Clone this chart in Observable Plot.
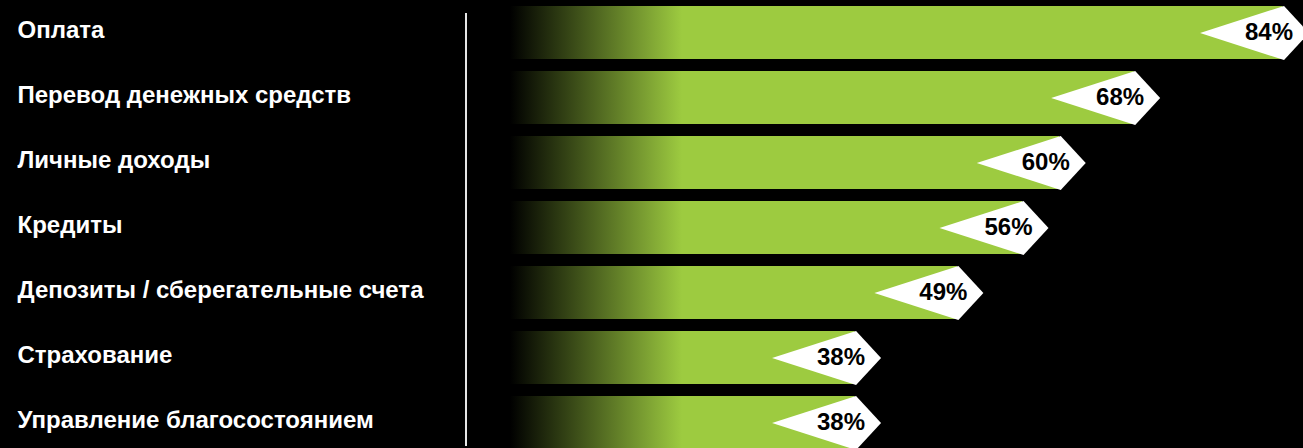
<!DOCTYPE html>
<html>
<head>
<meta charset="utf-8">
<script src="https://cdn.jsdelivr.net/npm/d3@7"></script>
<script src="https://cdn.jsdelivr.net/npm/@observablehq/plot@0.6"></script>
<style>
  html, body { margin: 0; padding: 0; background: #000; }
  #chart svg { display: block; }
</style>
</head>
<body>
<div id="chart"></div>
<script>
const categories = [
  "Оплата",
  "Перевод денежных средств",
  "Личные доходы",
  "Кредиты",
  "Депозиты / сберегательные счета",
  "Страхование",
  "Управление благосостоянием"
];
const values = [84, 68, 60, 56, 49, 38, 38];
const tickFormat = v => v + "%";

const data = categories.map((c, i) => ({cat: c, value: values[i]}));

const kite = {
  draw(context) {
    context.moveTo(-83, 0);
    context.lineTo(1, -27);
    context.lineTo(26, 0);
    context.lineTo(1, 27);
    context.closePath();
  }
};

const font = "'Liberation Sans', Arial, sans-serif";

const chart = Plot.plot({
  width: 1303,
  height: 448,
  marginLeft: 0,
  marginRight: 0,
  marginTop: 0,
  marginBottom: 0,
  style: {background: "#000", fontFamily: font},
  x: {domain: [0, 86.2], range: [501, 1303], axis: null},
  y: {domain: categories, range: [4, 450.5], paddingInner: 0.183, paddingOuter: 0, axis: null},
  marks: [
    Plot.barX(data, {x: "value", y: "cat", fill: "url(#barGrad)"}),
    Plot.dot(data, {x: "value", y: "cat", symbol: kite, r: 10, fill: "white", stroke: "none"}),
    Plot.text(data, {x: "value", y: "cat", text: d => tickFormat(d.value), textAnchor: "end", dx: 10, dy: -1, fill: "#000", fontSize: 24, fontWeight: "bold", fontFamily: font}),
    Plot.text(categories, {y: d => d, text: d => d, frameAnchor: "left", textAnchor: "start", dx: 17, dy: -3, fill: "#fff", fontSize: 24, fontWeight: "bold", fontFamily: font}),
    Plot.ruleX([0], {dx: -35.5, stroke: "#e6e6e6", strokeWidth: 2, insetTop: 13, insetBottom: 2})
  ]
});

const svg = d3.select(chart);
const defs = svg.insert("defs", ":first-child");
const grad = defs.append("linearGradient")
  .attr("id", "barGrad")
  .attr("gradientUnits", "userSpaceOnUse")
  .attr("x1", 510).attr("x2", 682).attr("y1", 0).attr("y2", 0);
grad.append("stop").attr("offset", "0").attr("stop-color", "#000000");
grad.append("stop").attr("offset", "1").attr("stop-color", "#9dcb40");

document.getElementById("chart").appendChild(chart);
</script>
</body>
</html>
